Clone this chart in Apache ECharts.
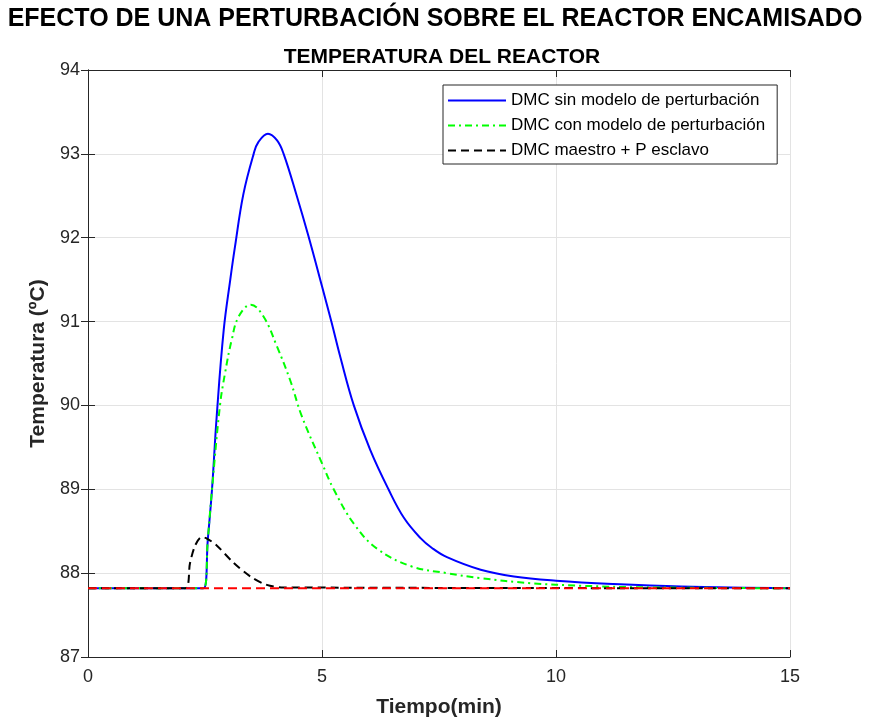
<!DOCTYPE html>
<html>
<head>
<meta charset="utf-8">
<script src="https://cdn.jsdelivr.net/npm/echarts@6/dist/echarts.min.js"></script>
<style>html,body{margin:0;padding:0;background:#fff;}#c{width:870px;height:718px;}</style>
</head>
<body>
<div id="c"></div>
<script>
const xTicks = [0, 5, 10, 15];
const yTicks = [87, 88, 89, 90, 91, 92, 93, 94];
const seriesNames = ['DMC sin modelo de perturbación', 'DMC con modelo de perturbación', 'DMC maestro + P esclavo'];

const blueX = [0, 2.47, 2.56, 2.65, 2.75, 2.9, 3.04, 3.14, 3.32, 3.54, 3.64, 3.845, 4.04, 4.18, 4.46, 4.71, 5.0, 5.2, 5.39, 5.68, 6.03, 6.42, 6.75, 7.1, 7.35, 7.67, 8.39, 9.1, 10, 11.23, 12.67, 15];
const blueY = [87.82, 87.82, 88.4, 89.0, 89.87, 90.9, 91.5, 91.89, 92.52, 93.0, 93.14, 93.24, 93.16, 93.0, 92.5, 92.02, 91.42, 91.0, 90.58, 90.0, 89.47, 89.0, 88.66, 88.42, 88.3, 88.19, 88.04, 87.96, 87.91, 87.87, 87.84, 87.82];

const greenX = [0, 2.47, 2.56, 2.65, 2.82, 2.93, 3.07, 3.22, 3.48, 3.75, 4.04, 4.32, 4.57, 5.0, 5.25, 5.68, 6.18, 6.92, 7.67, 8.39, 9.46, 10.53, 12, 15];
const greenY = [87.82, 87.82, 88.4, 89.0, 90.0, 90.39, 90.78, 91.06, 91.2, 91.06, 90.7, 90.3, 89.87, 89.31, 89.0, 88.59, 88.29, 88.08, 88.0, 87.94, 87.88, 87.85, 87.83, 87.82];

const blackX = [0, 2.08, 2.18, 2.29, 2.43, 2.55, 2.75, 3.1, 3.47, 3.82, 4.18, 15];
const blackY = [87.82, 87.82, 88.12, 88.33, 88.43, 88.41, 88.33, 88.13, 87.96, 87.86, 87.83, 87.82];

const refX = [0, 15];
const refY = [87.82, 87.82];

const pairs = (xs, ys) => xs.map((x, i) => [x, ys[i]]);

const chart = echarts.init(document.getElementById('c'), null, {renderer: 'canvas'});
const FONT = '"Liberation Sans", Arial, Helvetica, sans-serif';
const axisCol = '#262626';
const gridCol = '#e3e3e3';

const option = {
  backgroundColor: '#ffffff',
  animation: false,
  title: [
    {text: 'EFECTO DE UNA PERTURBACIÓN SOBRE EL REACTOR ENCAMISADO', left: 'center', top: 2,
     textStyle: {fontFamily: FONT, fontWeight: 'bold', fontSize: 25, color: '#000'}},
    {text: 'TEMPERATURA DEL REACTOR', left: 437, textAlign: 'center', top: 42,
     textStyle: {fontFamily: FONT, fontWeight: 'bold', fontSize: 21, color: '#000'}}
  ],
  grid: {left: 88, right: 80, top: 70, bottom: 61, containLabel: false, outerBoundsMode: 'none'},
  legend: {
    data: seriesNames,
    orient: 'vertical',
    left: 443, top: 85,
    backgroundColor: '#fff',
    borderColor: axisCol, borderWidth: 1,
    padding: [7, 12, 5, 4],
    itemGap: 8,
    itemWidth: 58, itemHeight: 14,
    itemStyle: {opacity: 0},
    textStyle: {fontFamily: FONT, fontSize: 17, color: '#000'}
  },
  xAxis: [
    {type: 'value', min: xTicks[0], max: xTicks[xTicks.length - 1], interval: 5,
     name: 'Tiempo(min)', nameLocation: 'middle', nameGap: 40,
     nameTextStyle: {fontFamily: FONT, fontWeight: 'bold', fontSize: 21, color: '#262626'},
     axisLine: {show: true, lineStyle: {color: axisCol, width: 1}},
     axisTick: {show: true, inside: true, length: 7, lineStyle: {color: axisCol}},
     axisLabel: {fontFamily: FONT, fontSize: 18, color: axisCol, margin: 11},
     splitLine: {show: true, lineStyle: {color: gridCol, width: 1}}},
    {type: 'value', position: 'top', min: xTicks[0], max: xTicks[xTicks.length - 1], interval: 5,
     axisLine: {show: true, lineStyle: {color: axisCol, width: 1}},
     axisTick: {show: true, inside: true, length: 7, lineStyle: {color: axisCol}},
     axisLabel: {show: false}, splitLine: {show: false}}
  ],
  yAxis: [
    {type: 'value', min: yTicks[0], max: yTicks[yTicks.length - 1], interval: 1,
     name: 'Temperatura (ºC)', nameLocation: 'middle', nameGap: 37, nameRotate: 90,
     nameTextStyle: {fontFamily: FONT, fontWeight: 'bold', fontSize: 21, color: '#262626'},
     axisLine: {show: true, lineStyle: {color: axisCol, width: 1}},
     axisTick: {show: true, inside: true, length: 7, lineStyle: {color: axisCol}},
     axisLabel: {fontFamily: FONT, fontSize: 18, color: axisCol, margin: 8},
     splitLine: {show: true, lineStyle: {color: gridCol, width: 1}}},
    {type: 'value', position: 'right', min: yTicks[0], max: yTicks[yTicks.length - 1], interval: 1,
     axisLine: {show: true, lineStyle: {color: axisCol, width: 1}},
     axisTick: {show: true, inside: true, length: 7, lineStyle: {color: axisCol}},
     axisLabel: {show: false}, splitLine: {show: false}}
  ],
  series: [
    {name: seriesNames[0], type: 'line', data: pairs(blueX, blueY), symbol: 'none', smooth: 0.4,
     lineStyle: {color: '#0000ff', width: 2}, itemStyle: {color: '#0000ff'}, z: 2},
    {name: seriesNames[1], type: 'line', data: pairs(greenX, greenY), symbol: 'none', smooth: 0.4,
     lineStyle: {color: '#00ff00', width: 2, type: [7, 4, 2, 4]}, itemStyle: {color: '#00ff00'}, z: 3},
    {name: seriesNames[2], type: 'line', data: pairs(blackX, blackY), symbol: 'none', smooth: 0.3,
     lineStyle: {color: '#000000', width: 2, type: [8, 5]}, itemStyle: {color: '#000000'}, z: 4},
    {name: 'ref', type: 'line', data: pairs(refX, refY), symbol: 'none',
     lineStyle: {color: '#ff0000', width: 2, type: [9, 5]}, itemStyle: {color: '#ff0000'}, z: 5}
  ]
};
chart.setOption(option);
</script>
</body>
</html>
